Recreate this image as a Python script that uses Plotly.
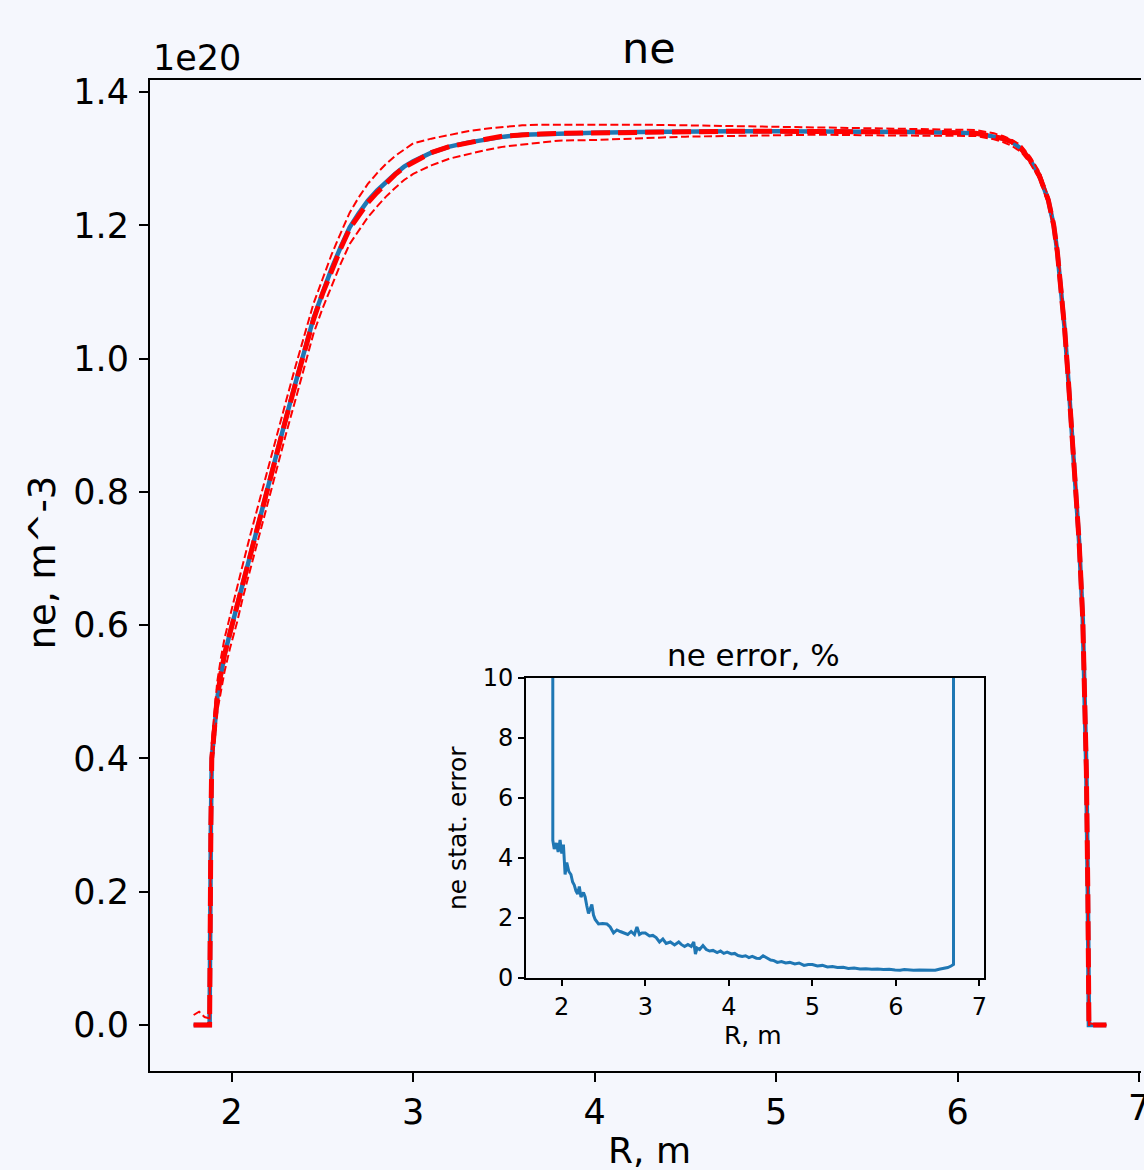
import plotly.graph_objects as go

# ---------------- data ----------------
R_ne = [1.79, 1.82, 1.85, 1.878, 1.885, 1.89, 1.90, 1.92, 1.94, 1.96, 1.99, 2.03, 2.06, 2.10,
        2.15, 2.20, 2.25, 2.30, 2.35, 2.40, 2.45, 2.50, 2.55, 2.60, 2.65, 2.70, 2.75, 2.80,
        2.85, 2.90, 2.95, 3.00, 3.10, 3.20, 3.30, 3.40, 3.50, 3.60, 3.70, 3.80, 4.00, 4.25,
        4.50, 4.75, 5.00, 5.25, 5.50, 5.75, 6.00, 6.10, 6.20, 6.25, 6.30, 6.35, 6.40, 6.45,
        6.50, 6.53, 6.55, 6.57, 6.59, 6.61, 6.63, 6.65, 6.67, 6.69, 6.70, 6.71, 6.718, 6.724,
        6.77, 6.82]

ne_fit = [0.0, 0.0, 0.0, 0.0, 0.30, 0.40, 0.43, 0.49, 0.525, 0.555, 0.588, 0.63, 0.663, 0.707,
          0.758, 0.81, 0.862, 0.912, 0.962, 1.01, 1.06, 1.098, 1.135, 1.167, 1.197, 1.218, 1.237, 1.252,
          1.265, 1.277, 1.288, 1.296, 1.309, 1.318, 1.324, 1.329, 1.333, 1.336, 1.337, 1.338, 1.339, 1.340,
          1.341, 1.341, 1.341, 1.341, 1.340, 1.340, 1.339, 1.338, 1.333, 1.330, 1.325, 1.315, 1.298, 1.275,
          1.238, 1.200, 1.160, 1.110, 1.045, 0.970, 0.895, 0.815, 0.725, 0.610, 0.520, 0.380, 0.200, 0.0,
          0.0, 0.0]

ne_mean = [0.0, 0.0, 0.0, 0.0, 0.30, 0.40, 0.43, 0.492, 0.527, 0.556, 0.588, 0.63, 0.664, 0.707,
           0.759, 0.81, 0.861, 0.911, 0.961, 1.009, 1.058, 1.097, 1.133, 1.165, 1.195, 1.215, 1.234, 1.249,
           1.263, 1.276, 1.287, 1.295, 1.309, 1.318, 1.324, 1.329, 1.334, 1.336, 1.337, 1.338, 1.339, 1.340,
           1.341, 1.341, 1.341, 1.341, 1.340, 1.340, 1.339, 1.338, 1.333, 1.330, 1.325, 1.315, 1.298, 1.275,
           1.238, 1.200, 1.160, 1.110, 1.045, 0.970, 0.895, 0.815, 0.725, 0.610, 0.520, 0.380, 0.200, 0.0,
           0.0, 0.0]

ne_hi = [0.015, 0.020, 0.012, 0.010, 0.33, 0.425, 0.455, 0.515, 0.55, 0.58, 0.613, 0.655, 0.69, 0.733,
         0.785, 0.835, 0.887, 0.937, 0.987, 1.035, 1.082, 1.119, 1.156, 1.188, 1.219, 1.242, 1.262, 1.278,
         1.292, 1.304, 1.314, 1.323, 1.330, 1.336, 1.341, 1.345, 1.348, 1.350, 1.351, 1.351, 1.352, 1.351,
         1.350, 1.349, 1.348, 1.347, 1.346, 1.345, 1.344, 1.343, 1.338, 1.334, 1.328, 1.320, 1.303, 1.281,
         1.243, 1.206, 1.166, 1.116, 1.052, 0.977, 0.902, 0.822, 0.732, 0.617, 0.527, 0.387, 0.205, 0.003,
         0.0, 0.0]

ne_lo = [0.0, 0.0, 0.0, 0.0, 0.27, 0.38, 0.41, 0.47, 0.50, 0.53, 0.565, 0.605, 0.64, 0.682,
         0.733, 0.785, 0.838, 0.888, 0.937, 0.985, 1.037, 1.075, 1.11, 1.142, 1.172, 1.193, 1.212, 1.228,
         1.243, 1.256, 1.268, 1.277, 1.290, 1.300, 1.307, 1.313, 1.318, 1.321, 1.325, 1.327, 1.328, 1.331,
         1.333, 1.334, 1.335, 1.336, 1.335, 1.335, 1.335, 1.334, 1.329, 1.325, 1.319, 1.310, 1.293, 1.270,
         1.232, 1.194, 1.154, 1.104, 1.038, 0.963, 0.888, 0.808, 0.718, 0.603, 0.513, 0.373, 0.195, 0.0,
         0.0, 0.0]

R_err = [1.890, 1.893, 1.91, 1.936, 1.957, 1.98, 2.00, 2.02, 2.04, 2.06, 2.085, 2.11, 2.13, 2.15,
         2.17, 2.19, 2.21, 2.23, 2.26, 2.28, 2.30, 2.32, 2.34, 2.36, 2.38, 2.40, 2.44, 2.49, 2.54,
         2.58, 2.62, 2.66, 2.70, 2.74, 2.79, 2.83, 2.87, 2.90, 2.93, 2.96, 3.00, 3.05, 3.09, 3.13,
         3.17, 3.21, 3.25, 3.30, 3.35, 3.40, 3.43, 3.47, 3.51, 3.55, 3.58, 3.60, 3.62, 3.65, 3.69,
         3.73, 3.77, 3.81, 3.86, 3.90, 3.94, 3.98, 4.03, 4.07, 4.11, 4.16, 4.20, 4.24, 4.28, 4.33,
         4.37, 4.41, 4.46, 4.50, 4.54, 4.58, 4.63, 4.68, 4.73, 4.79, 4.84, 4.90, 4.95, 5.00, 5.06,
         5.12, 5.18, 5.24, 5.30, 5.37, 5.43, 5.50, 5.57, 5.64, 5.71, 5.78, 5.85, 5.92, 5.99, 6.05,
         6.10, 6.15, 6.21, 6.28, 6.34, 6.41, 6.47, 6.53, 6.58, 6.62, 6.66, 6.689, 6.69]

err_pct = [100.0, 4.59, 4.3, 4.5, 4.2, 4.6, 4.15, 4.45, 3.45, 3.85, 3.55, 3.45, 3.2, 3.1,
           2.9, 2.8, 3.05, 2.7, 2.85, 2.7, 2.4, 2.15, 2.3, 2.45, 2.1, 1.95, 1.8, 1.82, 1.8,
           1.7, 1.5, 1.6, 1.55, 1.5, 1.45, 1.55, 1.45, 1.7, 1.45, 1.5, 1.5, 1.4, 1.42, 1.35,
           1.2, 1.3, 1.15, 1.2, 1.1, 1.2, 1.12, 1.05, 1.12, 1.05, 1.2, 0.8, 1.0, 0.95, 1.08,
           0.95, 0.9, 0.92, 0.85, 0.9, 0.82, 0.86, 0.8, 0.82, 0.75, 0.72, 0.74, 0.68, 0.72, 0.66,
           0.65, 0.74, 0.65, 0.6, 0.58, 0.52, 0.55, 0.5, 0.52, 0.47, 0.5, 0.42, 0.45, 0.45, 0.4,
           0.42, 0.37, 0.38, 0.35, 0.36, 0.32, 0.33, 0.3, 0.31, 0.29, 0.3, 0.28, 0.29, 0.27, 0.26,
           0.28, 0.27, 0.26, 0.27, 0.26, 0.25, 0.26, 0.3, 0.33, 0.35, 0.4, 0.45, 100.0]

main_xticks = [2, 3, 4, 5, 6, 7]
main_yticks = [0.0, 0.2, 0.4, 0.6, 0.8, 1.0, 1.2, 1.4]
inset_xticks = [2, 3, 4, 5, 6, 7]
inset_yticks = [0, 2, 4, 6, 8, 10]

# ---------------- layout constants ----------------
W, H = 1144, 1170
L, T, B, Rm = 150, 80, 1071, 0
PW, PH = W - L - Rm, B - T
BG = "#f5f7fd"
FONT = "DejaVu Sans"
BLUE = "#1f77b4"
RED = "#ff0000"
X0, X1 = 1.5495, 7.011


def px_x(p):
    return (p - L) / PW


def px_y(p):
    return (B - p) / PH


fig = go.Figure()

fig.add_trace(go.Scatter(x=R_ne, y=ne_fit, mode="lines",
                         line=dict(color=BLUE, width=4.5), showlegend=False))
fig.add_trace(go.Scatter(x=R_ne, y=ne_mean, mode="lines",
                         line=dict(color=RED, width=5, dash="19px,8px"), showlegend=False))
fig.add_trace(go.Scatter(x=R_ne, y=ne_hi, mode="lines",
                         line=dict(color=RED, width=2, dash="8px,3.5px"), showlegend=False))
fig.add_trace(go.Scatter(x=R_ne, y=ne_lo, mode="lines",
                         line=dict(color=RED, width=2, dash="8px,3.5px"), showlegend=False))

fig.add_trace(go.Scatter(x=R_err, y=err_pct, mode="lines", xaxis="x2", yaxis="y2",
                         line=dict(color=BLUE, width=3), showlegend=False))

axis_common = dict(showgrid=False, zeroline=False, showline=True, linecolor="black",
                   ticks="outside", tickcolor="black", color="black")

# main x tick labels drawn except the last, which is clipped at the page edge
fig.update_layout(
    width=W, height=H,
    margin=dict(l=L, r=Rm, t=T, b=H - B, pad=0),
    paper_bgcolor=BG, plot_bgcolor=BG,
    font=dict(family=FONT, color="black"),
    xaxis=dict(domain=[0, 1], range=[X0, X1], tickvals=main_xticks,
               ticktext=[str(v) for v in main_xticks], linewidth=2, mirror=True,
               ticklen=9, tickwidth=2, tickfont=dict(size=35, family=FONT), **axis_common),
    yaxis=dict(domain=[0, 1], range=[-0.069, 1.418], tickvals=main_yticks,
               ticktext=[f"{v:.1f}" for v in main_yticks], linewidth=2, mirror=False,
               ticklen=9, tickwidth=2, ticklabelstandoff=3,
               tickfont=dict(size=35, family=FONT), **axis_common),
    xaxis2=dict(domain=[px_x(527), px_x(987)], range=[1.5704, 7.0597], anchor="y2",
                tickvals=inset_xticks, ticktext=[str(v) for v in inset_xticks],
                linewidth=1.5, mirror=True, ticklen=6, tickwidth=1.5,
                tickfont=dict(size=24, family=FONT), **axis_common),
    yaxis2=dict(domain=[px_y(978), px_y(678)], range=[0, 10], anchor="x2",
                tickvals=inset_yticks, ticktext=[str(v) for v in inset_yticks],
                linewidth=1.5, mirror=True, ticklen=6, tickwidth=1.5,
                tickfont=dict(size=24, family=FONT), **axis_common),
)

ann = [
    dict(text="ne", x=px_x(651), y=px_y(48), font=dict(size=43)),
    dict(text="1e20", x=px_x(151), y=px_y(58), xanchor="left", font=dict(size=35)),
    dict(text="R, m", x=px_x(651), y=px_y(1150), font=dict(size=36)),
    dict(text="ne, m^-3", x=px_x(42), y=px_y(562), textangle=-90, font=dict(size=37)),
    dict(text="ne error, %", x=px_x(755), y=px_y(655), font=dict(size=31)),
    dict(text="R, m", x=px_x(755), y=px_y(1035), font=dict(size=25)),
    dict(text="ne stat. error", x=px_x(458), y=px_y(828), textangle=-90, font=dict(size=25)),
    dict(text=str(main_xticks[-1]), x=7, xref="x", y=px_y(1108), font=dict(size=35)),
]
for a in ann:
    a.setdefault("xanchor", "center")
    a.setdefault("xref", "paper")
    fig.add_annotation(yref="paper", showarrow=False, yanchor="middle",
                       font=dict(family=FONT, color="black", size=a["font"]["size"]),
                       **{k: v for k, v in a.items() if k != "font"})

fig.write_html("out.html", config={"displayModeBar": False},
               post_script="document.body.style.margin='0';")
